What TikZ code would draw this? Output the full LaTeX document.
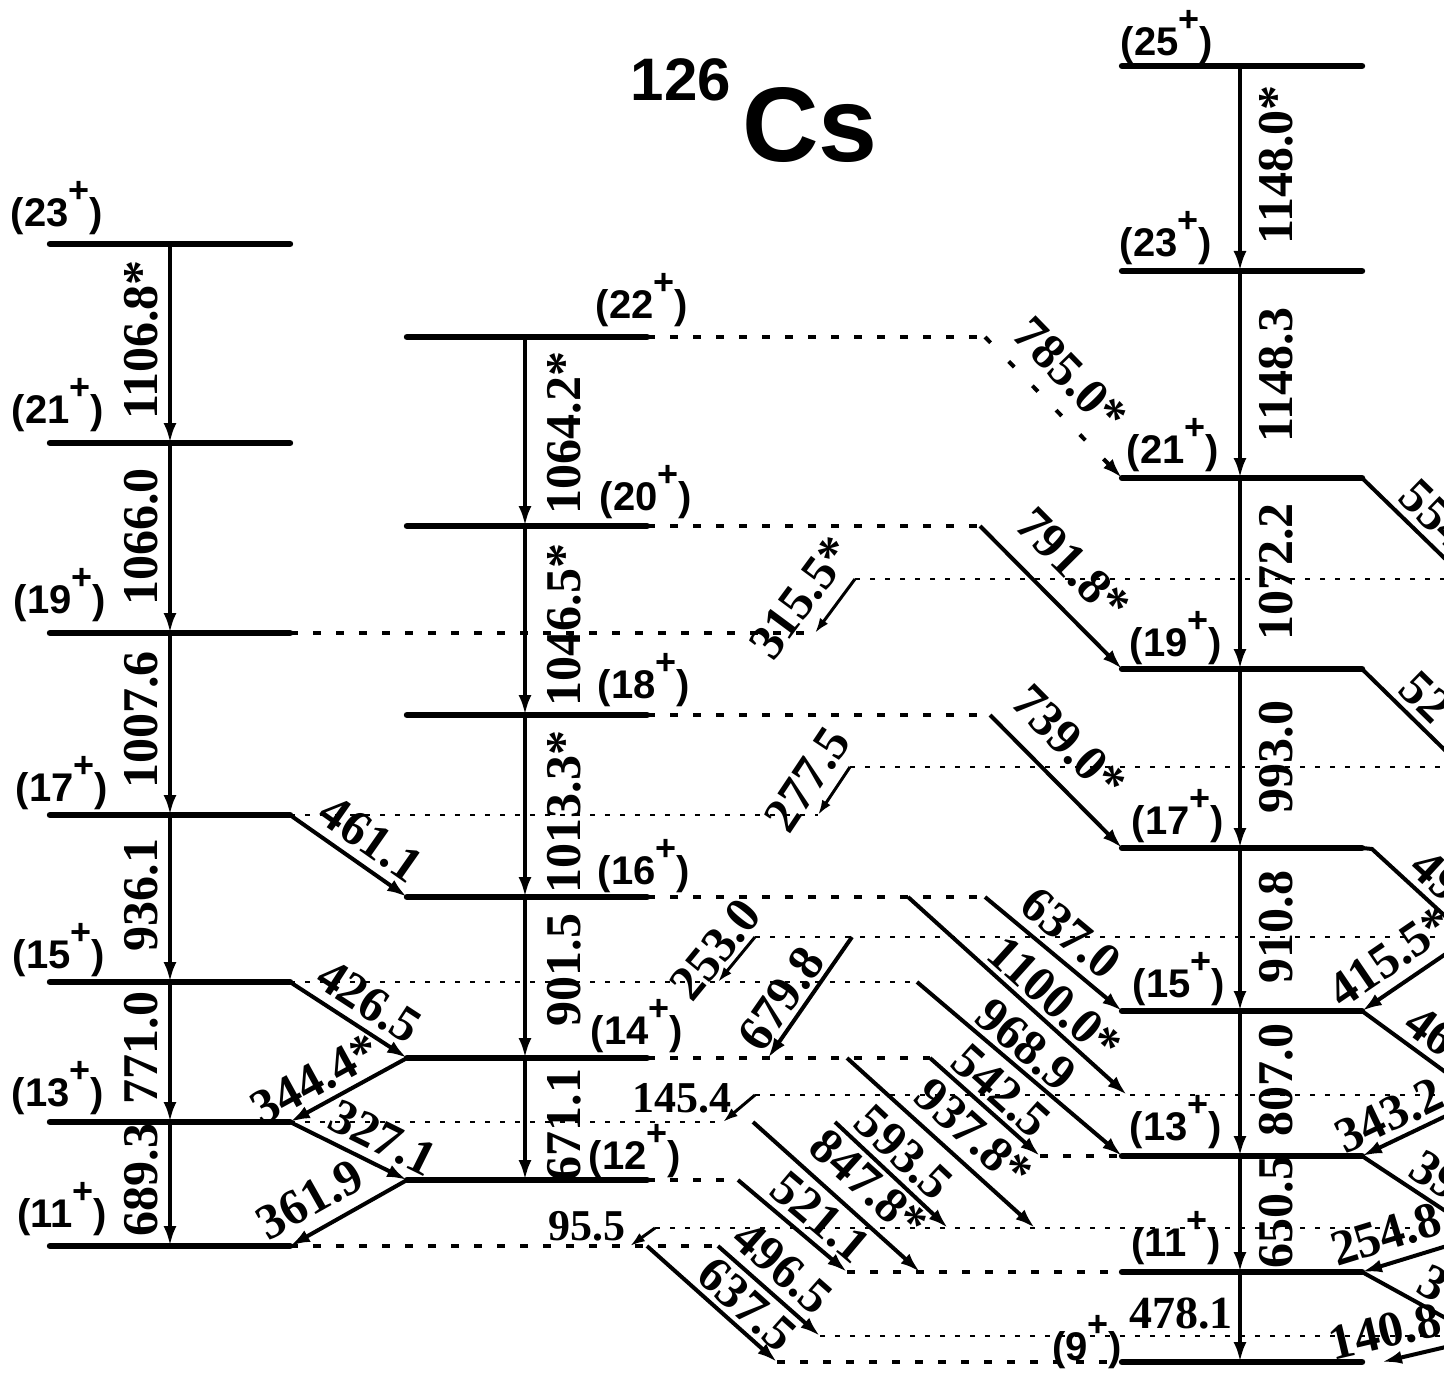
\documentclass[tikz,border=0pt]{standalone}
\usepackage{fontspec}
\setmainfont{Liberation Serif}
\newfontfamily\helv{Liberation Sans}
\usetikzlibrary{calc,arrows.meta}
\newcommand\supplus{\raisebox{12pt}{\fontsize{18}{18}\selectfont +}}

\begin{document}
\begin{tikzpicture}[x=0.5pt,y=-0.5pt,
  lvl/.style={line width=3.2pt, line cap=round},
  tr/.style={line width=2pt, -{Latex[length=10pt,width=6.5pt]}},
  trs/.style={line width=1.5pt, -{Latex[length=7.5pt,width=5pt]}},
  ext/.style={line width=1.6pt, dash pattern=on 4pt off 7.5pt},
  dot/.style={line width=0.8pt, dash pattern=on 2.5pt off 5pt},
  spin/.style={font=\helv\bfseries\fontsize{20}{20}\selectfont, inner sep=0pt},
  gam/.style={font=\bfseries\fontsize{25}{25}\selectfont, inner sep=2pt},
  gv/.style={gam, rotate=90, inner sep=0pt},
  gd/.style={gam, sloped},
  gs/.style={font=\bfseries\fontsize{22}{22}\selectfont, inner sep=0pt},
]
\useasboundingbox (0,0) rectangle (1444,1374);
\clip (0,0) rectangle (1444,1374);
\coordinate (edge) at (1444,0);

\foreach \s/\y in {23/244,21/443,19/633,17/815,15/982,13/1122,11/1246}{
  \coordinate (A\s) at (170,\y);
  \coordinate (Al\s) at (50,\y);
  \coordinate (Ar\s) at (290,\y);
}
\foreach \s/\y in {22/337,20/526,18/715,16/897,14/1058,12/1180}{
  \coordinate (B\s) at (525,\y);
  \coordinate (Bl\s) at (407,\y);
  \coordinate (Br\s) at (647,\y);
}
\foreach \s/\y in {25/66,23/271,21/478,19/669,17/848,15/1011,13/1156,11/1272,9/1362}{
  \coordinate (C\s) at (1240,\y);
  \coordinate (Cl\s) at (1122,\y);
  \coordinate (Cr\s) at (1362,\y);
}

\coordinate (Q1) at (855,579);
\coordinate (Q2) at (850,767);
\coordinate (Q3) at (755,937);
\coordinate (Q4) at (755,1095);
\coordinate (Q5) at (655,1228);
\coordinate (Q6) at (820,1336);

\coordinate (e315) at (815,633);
\coordinate (e277) at (818,815);
\coordinate (e253) at (718,982);
\coordinate (e145) at (723,1122);
\coordinate (e095) at (630,1246);
\coordinate (e679) at (768,1058);
\coordinate (s679) at (852,937);
\coordinate (s785) at (985,337);
\coordinate (s791) at (980,526);
\coordinate (s739) at (990,715);
\coordinate (s637) at (985,897);
\coordinate (s1100) at (908,897);
\coordinate (e1100) at (1127,1095);
\coordinate (s968) at (917,982);
\coordinate (s542) at (930,1058);
\coordinate (e542) at (1040,1156);
\coordinate (s937) at (847,1058);
\coordinate (e937) at (1035,1228);
\coordinate (s593) at (835,1122);
\coordinate (e593) at (948,1228);
\coordinate (s847) at (753,1122);
\coordinate (e847) at (920,1272);
\coordinate (s521) at (738,1180);
\coordinate (e521) at (847,1272);
\coordinate (s496) at (718,1246);
\coordinate (s6375) at (647,1246);
\coordinate (e6375) at (777,1362);

\coordinate (o554) at (1506,618);
\coordinate (o52) at (1506,810);
\coordinate (s49) at (1372,849);
\coordinate (o49) at (1506,972);
\coordinate (o46) at (1500,1112);
\coordinate (o39) at (1500,1247);
\coordinate (o3) at (1500,1348);
\coordinate (i415) at (1450,951);
\coordinate (i343) at (1450,1114);
\coordinate (i254) at (1450,1245);
\coordinate (i140) at (1450,1346);
\coordinate (e140) at (1382,1362);

\node[font=\helv\bfseries\fontsize{30}{30}\selectfont, inner sep=0pt] (tA) at (681,80) {126};
\node[font=\helv\bfseries\fontsize{53}{53}\selectfont, inner sep=0pt] (tCs) at (810,125) {Cs};

\draw[dot] (Q1) -- (Q1 -| edge);
\draw[dot] (Q2) -- (Q2 -| edge);
\draw[dot] (Q3) -- (Q3 -| edge);
\draw[dot] (Q4) -- (Q4 -| edge);
\draw[dot] (Q5) -- (Q5 -| edge);
\draw[dot] (Q6) -- (Q6 -| edge);

\draw[ext] (Ar19) -- (e315);
\draw[dot] (Ar17) -- (e277);
\draw[dot] (Ar15) -- (s968);
\draw[dot] (Ar13) -- (e145);
\draw[ext] (Ar11) -- (s496);
\draw[ext] (Br22) -- (s785);
\draw[ext] (Br20) -- (s791);
\draw[ext] (Br18) -- (s739);
\draw[ext] (Br16) -- (s637);
\draw[ext] (Br14) -- (s542);
\draw[ext] (Br12) -- (s521);
\draw[ext] (e542) -- (Cl13);
\draw[ext] (e521) -- (Cl11);
\draw[ext] (e6375) -- (Cl9);

\foreach \s in {23,21,19,17,15,13,11} \draw[lvl] (Al\s) -- (Ar\s);
\foreach \s in {22,20,18,16,14,12} \draw[lvl] (Bl\s) -- (Br\s);
\foreach \s in {25,23,21,19,17,15,13,11,9} \draw[lvl] (Cl\s) -- (Cr\s);

\foreach \s/\x/\y in {23/57/208,21/58/405,19/60/595,17/62/783,15/59/950,13/58/1088,11/62/1209}
  \node[spin] (sA\s) at (\x,\y) {(\s\supplus)};
\foreach \s/\x/\y in {22/642/300,20/646/492,18/644/680,16/644/866,14/637/1026,12/635/1151}
  \node[spin] (sB\s) at (\x,\y) {(\s\supplus)};
\foreach \s/\x/\y in {25/1167/37,23/1166/238,21/1173/445,19/1176/638,17/1178/816,15/1179/979,13/1176/1122,11/1176/1238,9/1087/1342}
  \node[spin] (sC\s) at (\x,\y) {(\s\supplus)};

\foreach \a/\b in {23/21,21/19,19/17,17/15,15/13,13/11} \draw[tr] (A\a) -- (A\b);
\foreach \a/\b in {22/20,20/18,18/16,16/14,14/12} \draw[tr] (B\a) -- (B\b);
\foreach \a/\b in {25/23,23/21,21/19,19/17,17/15,15/13,13/11,11/9} \draw[tr] (C\a) -- (C\b);

\foreach \t/\y [count=\i] in {1106.8*/340,1066.0/537,1007.6/720,936.1/895,771.0/1048,689.3/1180}
  \node[gv] (gA\i) at (141,\y) {\t};
\foreach \t/\y [count=\i] in {1064.2*/433,1046.5*/625,1013.3*/812,901.5/970,671.1/1125}
  \node[gv] (gB\i) at (564,\y) {\t};
\foreach \t/\y [count=\i] in {1148.0*/165,1148.3/375,1072.2/572,993.0/757,910.8/927,807.0/1080,650.5/1212}
  \node[gv] (gC\i) at (1276,\y) {\t};
\node[gam, font=\bfseries\fontsize{23}{23}\selectfont, inner sep=0pt] (g478) at (1181,1314) {478.1};

\draw[tr] (Ar17) -- (Bl16) node[gd, pos=.56, above=2pt] (g461) {461.1};
\draw[tr] (Ar15) -- (Bl14) node[gd, pos=.55, above=2pt] (g426) {426.5};
\draw[tr] (Bl14) -- (Ar13) node[gd, pos=.68, above=1pt] (g344) {344.4*};
\draw[tr] (Ar13) -- (Bl12) node[gd, pos=.69, above=2pt] (g327) {327.1};
\draw[tr] (Bl12) -- (Ar11) node[gd, pos=.7, above=4pt] (g361) {361.9};

\draw[trs] (Q1) -- (e315) node[gd, pos=.7, above=5pt] (g315) {315.5*};
\draw[trs] (Q2) -- (e277) node[gd, pos=.59, above=3pt] (g277) {277.5};
\draw[trs] (Q3) -- (e253) node[gd, pos=.6, above=0pt] (g253) {253.0};
\draw[tr] (s679) -- (e679) node[gd, pos=.62, above=0pt] (g679) {679.8};
\draw[trs] (Q4) -- (e145);
\node[gs] (g145) at (682,1098) {145.4};
\draw[trs] (Q5) -- (e095);
\node[gs] (g095) at (587,1226) {95.5};

\draw[tr, line width=2pt, dash pattern=on 4pt off 13pt] (s785) -- (Cl21) node[gd, pos=.44, above=6pt] (g785) {785.0*};
\draw[tr] (s791) -- (Cl19) node[gd, pos=.46, above=8pt] (g791) {791.8*};
\draw[tr] (s739) -- (Cl17) node[gd, pos=.4, above=7pt] (g739) {739.0*};
\draw[tr] (s637) -- (Cl15) node[gd, pos=.5, above=2pt] (g637) {637.0};
\draw[tr] (s1100) -- (e1100) node[gd, pos=.6, above=0pt] (g1100) {1100.0*};
\draw[tr] (s968) -- (Cl13) node[gd, pos=.46, above=0pt] (g968) {968.9};
\draw[tr] (s542) -- (e542) node[gd, pos=.51, above=0pt] (g542) {542.5};
\draw[tr] (s937) -- (e937) node[gd, pos=.57, above=3pt] (g937) {937.8*};
\draw[tr] (s593) -- (e593) node[gd, pos=.46, above=1pt] (g593) {593.5};
\draw[tr] (s847) -- (e847) node[gd, pos=.57, above=4pt] (g847) {847.8*};
\draw[tr] (s521) -- (e521) node[gd, pos=.61, above=1pt] (g521) {521.1};
\draw[tr] (s496) -- (Q6) node[gd, pos=.46, above=2pt] (g496) {496.5};
\draw[tr] (s6375) -- (e6375) node[gd, pos=.65, above=0pt] (g6375) {637.5};

\draw[line width=2pt] (Cr21) -- (o554) node[gd, pos=.16, anchor=south west, inner sep=3pt] (g554) {554};
\draw[line width=2pt] (Cr19) -- (o52) node[gd, pos=.16, anchor=south west, inner sep=3pt] (g52) {52};
\draw[line width=2pt] (Cr17) -- (s49) -- (o49) node[gd, pos=.18, anchor=south west, inner sep=3pt] (g49) {49};
\draw[line width=2pt] (Cr15) -- (o46) node[gd, pos=.2, anchor=south west, inner sep=3pt] (g46) {46};
\draw[line width=2pt] (Cr13) -- (o39) node[gd, pos=.24, anchor=south west, inner sep=3pt] (g39) {39};
\draw[line width=2pt] (Cr11) -- (o3) node[gd, pos=.3, anchor=south west, inner sep=3pt] (g3) {3};
\draw[tr] (i415) -- (Cr15) node[gd, pos=.5, above=3pt] (g415) {415.5*};
\draw[tr] (i343) -- (Cr13) node[gd, pos=.57, above=1pt] (g343) {343.2};
\draw[tr] (i254) -- (Cr11) node[gd, pos=.63, above=3pt] (g254) {254.8};
\draw[tr] (i140) -- (e140) node[gd, pos=.86, above=3pt] (g140) {140.8};
\end{tikzpicture}
\end{document}
